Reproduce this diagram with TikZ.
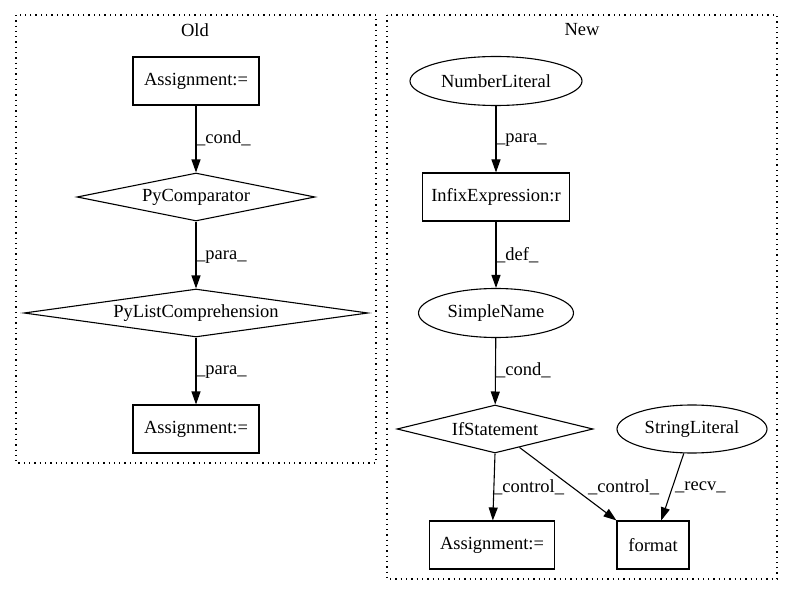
\documentclass[tikz,border=0pt]{standalone}
\usepackage{fontspec}
\setmainfont{Liberation Serif}
\usetikzlibrary{shapes.geometric,arrows.meta}
\begin{document}
\begin{tikzpicture}[x=1pt,y=-1pt,
  every node/.style={font=\fontsize{18.5}{20}\selectfont, inner sep=0pt},
  box/.style={draw, line width=1.1pt, minimum height=48pt},
  dia/.style={draw, diamond, line width=1.1pt, minimum height=48pt},
  ell/.style={draw, ellipse, line width=1.1pt, minimum height=49pt},
  cluster/.style={draw, line width=1.1pt, dash pattern=on 1.3pt off 4pt},
  edge/.style={draw, line width=1.1pt, -{Triangle[length=13pt,width=9pt]}},
  elabel/.style={anchor=west}]
\useasboundingbox (0,0) rectangle (793,596);
\draw[cluster] (16,15) rectangle (376,463);
\draw[cluster] (387,15) rectangle (777,579);
\node (oldlbl) at (195,30) {Old};
\node (newlbl) at (582,30) {New};
% Old
\node[box, minimum width=126pt] (o1) at (196,81) {Assignment:=};
\node[dia, minimum width=238pt, aspect=5] (o2) at (196,197) {PyComparator};
\node[dia, minimum width=344pt, aspect=7.2] (o3) at (196,313) {PyListComprehension};
\node[box, minimum width=126pt] (o4) at (196,429) {Assignment:=};
\draw[edge] (o1) -- (o2);
\draw[edge] (o2) -- (o3);
\draw[edge] (o3) -- (o4);
\node[elabel] (l1) at (196,138) {\_cond\_};
\node[elabel] (l2) at (196,257) {\_para\_};
\node[elabel] (l3) at (196,372) {\_para\_};
% New
\node[ell, minimum width=172pt] (n1) at (496,81) {NumberLiteral};
\node[box, minimum width=147pt] (n2) at (496,197) {InfixExpression:r};
\node[ell, minimum width=155pt] (n3) at (496,313) {SimpleName};
\node[dia, minimum width=196pt, aspect=4] (n4) at (495,429) {IfStatement};
\node[ell, minimum width=150pt, minimum height=48pt] (n5) at (692,429) {StringLiteral};
\node[box, minimum width=125pt] (n6) at (492,545) {Assignment:=};
\node[box, minimum width=72pt] (n7) at (653,545) {format};
\draw[edge] (n1) -- (n2);
\draw[edge] (n2) -- (n3);
\draw[edge] (n3) -- (n4);
\draw[edge] (n4.south) -- (n6);
\draw[edge] (n4) -- (n7.north west);
\draw[edge] (n5) -- (n7);
\node[elabel] (l4) at (496,140) {\_para\_};
\node[elabel] (l5) at (496,255) {\_def\_};
\node[elabel] (l6) at (496,370) {\_cond\_};
\node[elabel] (l7) at (493,487) {\_control\_};
\node[elabel] (l8) at (588,487) {\_control\_};
\node[elabel] (l9) at (675,487) {\_recv\_};
\end{tikzpicture}
\end{document}
